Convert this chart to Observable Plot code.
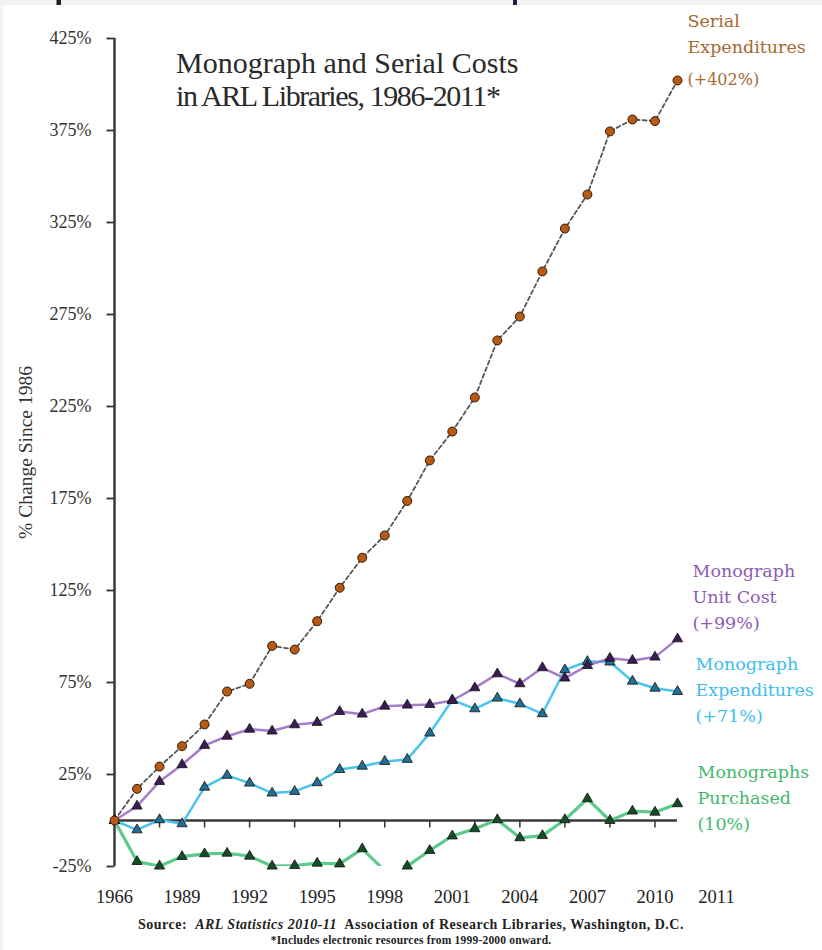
<!DOCTYPE html>
<html><head><meta charset="utf-8">
<script src="https://cdn.jsdelivr.net/npm/d3@7"></script>
<script src="https://cdn.jsdelivr.net/npm/@observablehq/plot@0.6"></script>
<style>
html,body{margin:0;padding:0;background:#f3f3f3;}
#wrap{position:relative;width:822px;height:950px;overflow:hidden;}
#panel{position:absolute;left:3px;top:5px;right:0;bottom:0;background:#fff;}
#chart{position:absolute;left:0;top:0;}
.mark{position:absolute;top:0;width:4px;height:5px;background:#1a1f3a;}
.title{position:absolute;left:176px;font-family:"Liberation Serif",serif;font-size:30px;color:#2a2a2a;white-space:nowrap;line-height:1;}
.src{position:absolute;left:0;width:822px;text-align:center;font-family:"Liberation Serif",serif;font-weight:bold;color:#222;white-space:nowrap;line-height:1;}
</style></head>
<body>
<div id="wrap">
  <div id="panel"></div>
  <div class="mark" style="left:56px;border-left:1px solid #c07a2a"></div>
  <div class="mark" style="left:513px"></div>
  <div id="chart"></div>
  <div class="title" style="top:48px">Monograph and Serial Costs</div>
  <div class="title" style="top:81px;letter-spacing:-1.4px">in ARL Libraries, 1986-2011*</div>
  <div class="src" style="top:918px;font-size:14px;letter-spacing:0.5px">Source:&nbsp; <i>ARL Statistics 2010-11</i>&nbsp; Association of Research Libraries, Washington, D.C.</div>
  <div class="src" style="top:935px;font-size:11.5px;letter-spacing:0.2px">*Includes electronic resources from 1999-2000 onward.</div>
</div>
<script>
// ---- data ----
const years = [1986,1987,1988,1989,1990,1991,1992,1993,1994,1995,1996,1997,1998,1999,2000,2001,2002,2003,2004,2005,2006,2007,2008,2009,2010,2011];
const serialExpenditures = [0,17.2,29.3,40.4,52.2,70.1,74.3,94.9,92.9,108.3,126.5,142.8,154.9,173.7,195.7,211.4,229.9,260.9,273.9,298.4,321.7,340.2,374.5,381.0,380.1,402.2];
const monographUnitCost = [0,7.8,21.2,30.3,40.8,45.8,49.6,48.6,52.0,53.3,59.2,57.8,62.1,62.7,63.0,65.2,72.1,79.7,74.3,83.0,77.4,84.2,88.2,87.0,88.8,98.7];
const monographExpenditures = [0,-5.1,0.4,-1.8,18.1,24.5,20.3,14.9,15.8,20.5,27.7,29.5,32.1,33.2,47.5,65.5,60.7,66.5,63.4,58.0,81.9,86.4,86.1,75.7,71.9,70.1];
const monographsPurchased = [0,-22.3,-24.8,-19.6,-18.1,-17.8,-19.4,-24.8,-24.5,-23.2,-23.6,-15.4,-27.2,-24.8,-16.3,-8.4,-4.5,0.4,-9.4,-8.2,0.4,11.8,0,5.1,4.5,9.1];

const yTicks = [425,375,325,275,225,175,125,75,25,-25];
const xTickYears = [1986,1989,1992,1995,1998,2001,2004,2007,2010];
const xTickLabels = ["1966","1989","1992","1995","1998","2001","2004","2007","2010"];
const xExtraTick = 2011, xExtraLabel = "2011";
const xMinorTicks = [1988,1990,1992,1994,1996,1998,2000,2002,2004,2006,2008,2010];
const yAxisTitle = "% Change Since 1986";

const serialName = "Serial\nExpenditures", serialChange = "(+402%)";
const labels = {
  unit: "Monograph\nUnit Cost\n(+99%)",
  exp: "Monograph\nExpenditures\n(+71%)",
  purch: "Monographs\nPurchased\n(10%)"
};

const rows = arr => years.map((year, i) => ({year, v: arr[i]}));
const S = rows(serialExpenditures), U = rows(monographUnitCost), E = rows(monographExpenditures), P = rows(monographsPurchased);

const tickDown = {draw(ctx){ ctx.moveTo(0,0); ctx.lineTo(0,7); }};
const tickLeft = {draw(ctx){ ctx.moveTo(0,0); ctx.lineTo(-8,0); }};
const labelFont = {fontFamily:"DejaVu Serif", fontSize:17.5, textAnchor:"start", lineAnchor:"bottom", lineHeight:1.47};

const plot = Plot.plot({
  width: 822, height: 950,
  marginLeft: 114, marginRight: 145, marginTop: 38, marginBottom: 84,
  x: {domain: [1986, 2011], axis: null},
  y: {domain: [-25, 425], axis: null},
  style: {background: "transparent", fontFamily: "Liberation Serif"},
  marks: [
    Plot.dot(yTicks, {x: () => 1986, y: d => d, symbol: tickLeft, stroke: "#333", strokeWidth: 1.8, fill: "none"}),
    Plot.text(yTicks, {y: d => d, frameAnchor: "left", dx: -23, textAnchor: "end", text: d => d + "%", fontSize: 18, fill: "#333"}),
    Plot.text(xTickYears, {x: d => d, frameAnchor: "bottom", dy: 31, textAnchor: "middle", lineAnchor: "middle", text: d => xTickLabels[xTickYears.indexOf(d)], fontSize: 18.5, fill: "#222"}),
    Plot.text([xExtraTick], {x: d => d, frameAnchor: "bottom", dy: 31, dx: 39, textAnchor: "middle", lineAnchor: "middle", text: () => xExtraLabel, fontSize: 18.5, fill: "#222"}),
    Plot.text([yAxisTitle], {frameAnchor: "left", dx: -89, dy: 0, rotate: -90, textAnchor: "middle", lineAnchor: "middle", fontSize: 19.5, fill: "#333", text: d => d}),
    Plot.ruleY([0], {stroke: "#3a3a3a", strokeWidth: 2.5}),
    Plot.ruleX([1986], {stroke: "#3a3a3a", strokeWidth: 2.5}),
    Plot.dot(xMinorTicks, {x: d => d, y: () => 0, symbol: tickDown, stroke: "#333", strokeWidth: 1.5, fill: "none"}),
    Plot.line(P, {x: "year", y: "v", stroke: "#5cca8a", strokeWidth: 3.2, clip: true}),
    Plot.line(E, {x: "year", y: "v", stroke: "#4ac4ef", strokeWidth: 2.5}),
    Plot.line(U, {x: "year", y: "v", stroke: "#a57cc8", strokeWidth: 2.5}),
    Plot.line(S, {x: "year", y: "v", stroke: "#555", strokeWidth: 1.8, strokeDasharray: "4,3"}),
    Plot.dot(P.filter(d => d.v >= -25), {x: "year", y: "v", symbol: "triangle", r: 3.8, fill: "#174d26", stroke: "#111", strokeWidth: 0.8}),
    Plot.dot(E, {x: "year", y: "v", symbol: "triangle", r: 3.8, fill: "#236f93", stroke: "#111", strokeWidth: 0.8}),
    Plot.dot(U, {x: "year", y: "v", symbol: "triangle", r: 3.8, fill: "#3b1d56", stroke: "#111", strokeWidth: 0.8}),
    Plot.dot(S, {x: "year", y: "v", r: 4.5, fill: "#b95a12", stroke: "#2b1a0e", strokeWidth: 1}),
    Plot.text(S, Plot.selectLast({x: "year", y: "v", text: () => serialName, fill: "#a6692f", dx: 10, dy: -27, ...labelFont, lineHeight: 1.5})),
    Plot.text(S, Plot.selectLast({x: "year", y: "v", text: () => serialChange, fill: "#a6692f", dx: 10, dy: 5, ...labelFont, fontSize: 16})),
    Plot.text(U, Plot.selectLast({x: "year", y: "v", text: () => labels.unit, fill: "#8d5cb6", dx: 15, dy: -10, ...labelFont})),
    Plot.text(E, Plot.selectLast({x: "year", y: "v", text: () => labels.exp, fill: "#41bdee", dx: 18, dy: 30, ...labelFont})),
    Plot.text(P, Plot.selectLast({x: "year", y: "v", text: () => labels.purch, fill: "#42b96b", dx: 20, dy: 26, ...labelFont}))
  ]
});
document.getElementById("chart").appendChild(plot);
</script>
</body></html>
